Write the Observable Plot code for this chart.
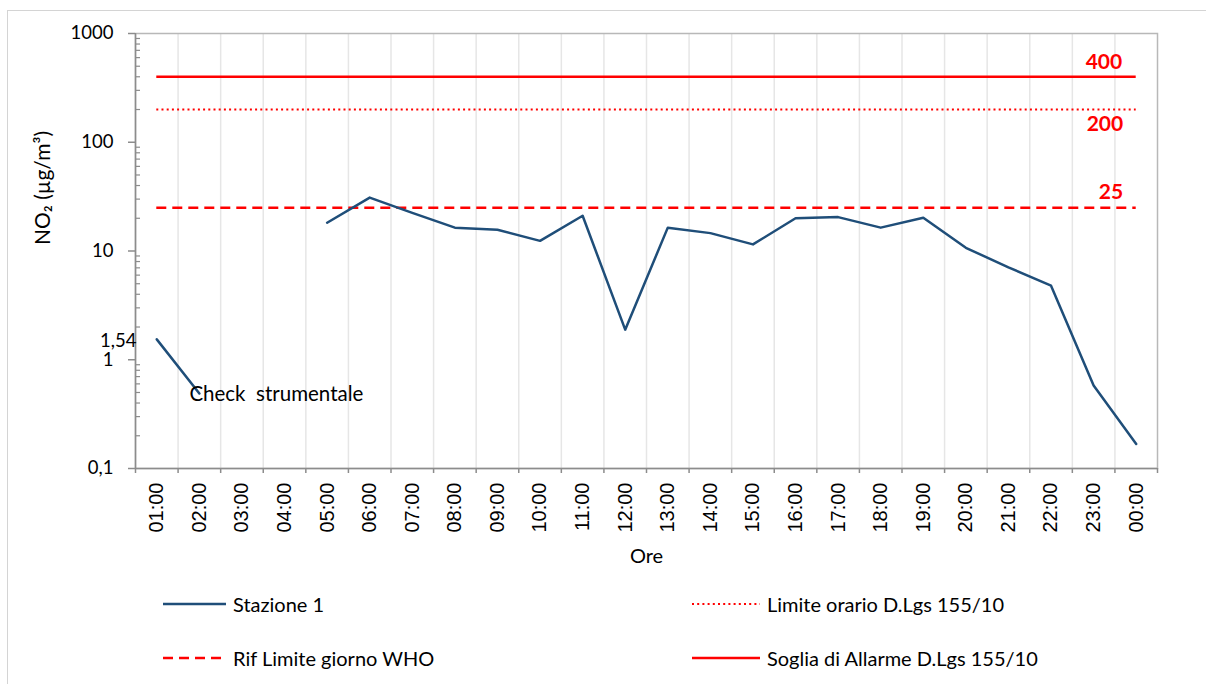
<!DOCTYPE html>
<html><head><meta charset="utf-8">
<script src="https://cdn.jsdelivr.net/npm/d3@7"></script>
<script src="https://cdn.jsdelivr.net/npm/@observablehq/plot@0.6"></script>
<style>
body{margin:0;background:#fff;}
#wrap{position:relative;width:1206px;height:684px;overflow:hidden;font-family:Lato,sans-serif;background:#fff;}
#border{position:absolute;left:7px;top:10px;width:1300px;height:800px;border-left:1.5px solid #d4d4d4;border-top:1.5px solid #d4d4d4;}
#chart{position:absolute;left:0;top:0;}
.leg{position:absolute;display:flex;align-items:center;font-size:20px;color:#000;height:24px;}
.leg svg{margin-right:7px;}
</style></head><body>
<div id="wrap"><div id="border"></div><div id="chart"></div><div id="legend"></div></div>
<script>
// ---- data ----
const hours = ["01:00","02:00","03:00","04:00","05:00","06:00","07:00","08:00","09:00","10:00","11:00","12:00",
               "13:00","14:00","15:00","16:00","17:00","18:00","19:00","20:00","21:00","22:00","23:00","00:00"];
const stazione1 = [1.54, 0.49, null, null, 18.2, 31.0, 22.4, 16.4, 15.7, 12.4, 21.1, 1.89,
                   16.4, 14.6, 11.5, 20.0, 20.5, 16.4, 20.2, 10.7, 7.07, 4.80, 0.58, 0.168];
const sogliaAllarme = 400;   // Soglia di Allarme D.Lgs 155/10
const limiteOrario = 200;    // Limite orario D.Lgs 155/10
const rifWHO = 25;           // Rif Limite giorno WHO
const yTicks = [0.1, 1, 10, 100, 1000];
const firstLabel = {hour: "01:00", value: 1.54, text: "1,54"};
const annotation = {hour: "02:00", value: 0.49, text: "Check\u00a0 strumentale"};
const legendItems = [
  {name: "Stazione 1", color: "#1f4e79", dash: null, width: 2.5},
  {name: "Limite orario D.Lgs 155/10", color: "#ff0000", dash: "2,3.2", width: 2},
  {name: "Rif Limite giorno WHO", color: "#ff0000", dash: "10,6", width: 2.5},
  {name: "Soglia di Allarme D.Lgs 155/10", color: "#ff0000", dash: null, width: 2.5}
];

// ---- derived ----
const idx = h => hours.indexOf(h) + 0.5;
const data = hours.map((h, i) => ({x: i + 0.5, v: stazione1[i]}));
const minorTicks = [];
for (const p of [0.1, 1, 10, 100]) for (let k = 2; k <= 9; k++) minorTicks.push(+(k * p).toPrecision(3));
const xFirst = idx(hours[0]), xLast = idx(hours[hours.length - 1]);
const fmt = d => String(d).replace(".", ",");
const red = "#ff0000";
const axisGray = "#8c8c8c";

const chart = Plot.plot({
  width: 1206, height: 580,
  marginLeft: 135, marginRight: 49, marginTop: 33, marginBottom: 112,
  style: {fontFamily: "Lato, sans-serif", fontSize: "18px", color: "#000", background: "transparent", overflow: "visible"},
  x: {type: "linear", domain: [0, hours.length], axis: null},
  y: {type: "log", domain: [0.1, 1000], axis: null},
  marks: [
    Plot.gridX(d3.range(1, hours.length), {stroke: "#e6e6e6", strokeOpacity: 1, strokeWidth: 1.5}),
    Plot.frame({stroke: "#b8b8b8", strokeWidth: 1.5}),
    Plot.ruleX([0], {stroke: axisGray, strokeWidth: 1.5}),
    Plot.ruleY([0.1], {stroke: axisGray, strokeWidth: 1.5}),
    Plot.axisY({ticks: yTicks, tickFormat: fmt, tickSize: 7, tickPadding: 15, stroke: axisGray, strokeWidth: 1.5, fill: "#000", fontSize: 18.5, label: null}),
    Plot.axisY({ticks: minorTicks, tickFormat: () => "", tickSize: 5, tickPadding: 0, dx: 5, stroke: axisGray, strokeWidth: 1.2, label: null}),
    Plot.axisX({ticks: d3.range(hours.length + 1), tickFormat: () => "", tickSize: 5, stroke: axisGray, strokeWidth: 1.5, label: null}),
    Plot.axisX({ticks: hours.map((h, i) => i + 0.5), tickFormat: t => hours[Math.floor(t)], tickSize: 0, tickPadding: 14,
                tickRotate: -90, fontFamily: "Liberation Sans, Arial, sans-serif", fontSize: 20, fill: "#000", label: null}),
    // threshold lines
    Plot.ruleY([sogliaAllarme], {x1: xFirst, x2: xLast, stroke: red, strokeWidth: 2.5}),
    Plot.ruleY([limiteOrario], {x1: xFirst, x2: xLast, stroke: red, strokeWidth: 2, strokeDasharray: "2,3.2"}),
    Plot.ruleY([rifWHO], {x1: xFirst, x2: xLast, stroke: red, strokeWidth: 2.5, strokeDasharray: "10,6"}),
    Plot.text([sogliaAllarme], {x: xLast, y: d => d, text: d => String(d), textAnchor: "end", dx: -14, dy: -15, fill: red, fontWeight: "bold", fontSize: 21}),
    Plot.text([limiteOrario], {x: xLast, y: d => d, text: d => String(d), textAnchor: "end", dx: -13, dy: 15, fill: red, fontWeight: "bold", fontSize: 21}),
    Plot.text([rifWHO], {x: xLast, y: d => d, text: d => String(d), textAnchor: "end", dx: -13, dy: -15, fill: red, fontWeight: "bold", fontSize: 21}),
    // series
    Plot.line(data, {x: "x", y: "v", stroke: "#1f4e79", strokeWidth: 2.5}),
    Plot.text([firstLabel], {x: 0, y: "value", text: "text", textAnchor: "end", dx: 1, dy: 2, fill: "#000", fontSize: 18.5}),
    Plot.text([annotation], {x: d => idx(d.hour), y: "value", text: "text", textAnchor: "start", dx: -10, dy: 1, fill: "#000", fontSize: 20.5}),
    // axis titles
    Plot.text(["Ore"], {frameAnchor: "bottom", dy: 94, fill: "#000", fontSize: 20}),
    Plot.text(["NO₂ (µg/m³)"], {frameAnchor: "left", textAnchor: "middle", dx: -92, dy: -63, rotate: -90, fill: "#000", fontSize: 21})
  ]
});
document.getElementById("chart").appendChild(chart);

// ---- legend ----
const pos = [[163, 592], [692, 592], [163, 646], [692, 646]];
const legend = document.getElementById("legend");
legendItems.forEach((it, i) => {
  const div = document.createElement("div");
  div.className = "leg";
  div.style.left = pos[i][0] + "px";
  div.style.top = pos[i][1] + "px";
  const w = i % 2 === 0 ? 63 : 68;
  div.innerHTML = `<svg width="${w}" height="10"><line x1="0" x2="${w}" y1="5" y2="5" stroke="${it.color}" stroke-width="${it.width}" ${it.dash ? `stroke-dasharray="${it.dash}"` : ""}/></svg><span>${it.name}</span>`;
  legend.appendChild(div);
});
</script>
</body></html>
